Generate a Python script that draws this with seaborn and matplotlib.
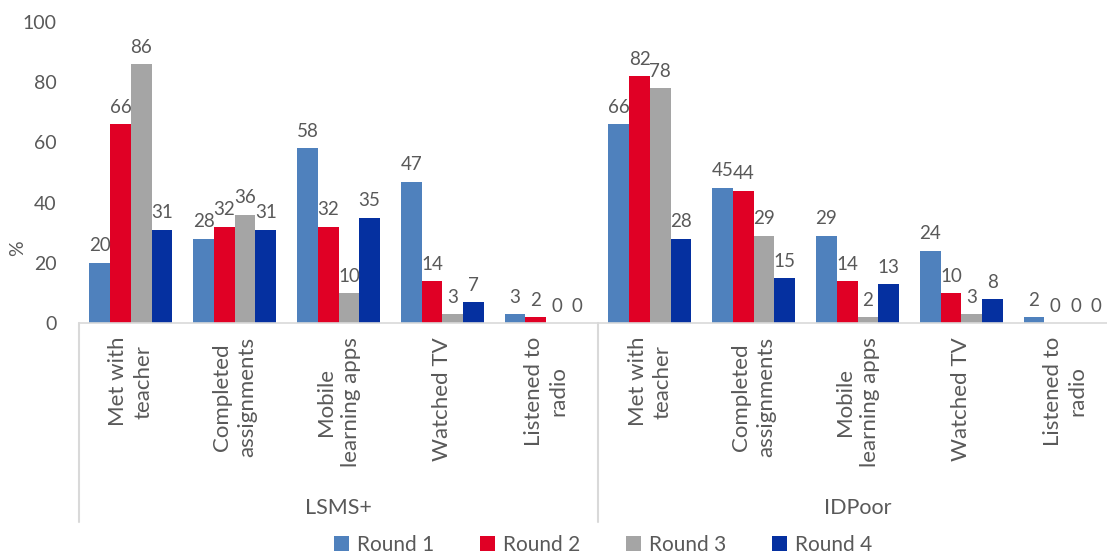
import matplotlib
matplotlib.use("Agg")
import matplotlib.pyplot as plt
import matplotlib.transforms as mtransforms
from matplotlib.patches import Patch
import seaborn as sns
import pandas as pd

# Survey sources and activity categories
sources = ["LSMS+", "IDPoor"]
activities = ["Met with\nteacher", "Completed\nassignments", "Mobile\nlearning apps",
              "Watched TV", "Listened to\nradio"]
rounds = ["Round 1", "Round 2", "Round 3", "Round 4"]

# Share of respondents (%) per activity, one list per round
lsms_round1 = [20, 28, 58, 47, 3]
lsms_round2 = [66, 32, 32, 14, 2]
lsms_round3 = [86, 36, 10, 3, 0]
lsms_round4 = [31, 31, 35, 7, 0]

idpoor_round1 = [66, 45, 29, 24, 2]
idpoor_round2 = [82, 44, 14, 10, 0]
idpoor_round3 = [78, 29, 2, 3, 0]
idpoor_round4 = [28, 15, 13, 8, 0]

colors = ["#4F81BD", "#E00025", "#A5A5A5", "#0530A0"]
text_color = "#595959"
line_color = "#D9D9D9"

series = {
    "LSMS+": [lsms_round1, lsms_round2, lsms_round3, lsms_round4],
    "IDPoor": [idpoor_round1, idpoor_round2, idpoor_round3, idpoor_round4],
}

rows = []
keys = []
for src in sources:
    for i, act in enumerate(activities):
        key = f"{src}|{act}"
        keys.append(key)
        for r, rname in enumerate(rounds):
            rows.append({"key": key, "round": rname, "value": series[src][r][i]})
df = pd.DataFrame(rows)

sns.set_style("white")
plt.rcParams["font.family"] = ["Lato", "DejaVu Sans"]

fig = plt.figure(figsize=(11.07, 5.56), dpi=100)
W, H = 1107, 556
left_px, right_px, top_px, bottom_px = 79, 1117, 22, 323
ax = fig.add_axes([left_px / W, 1 - bottom_px / H,
                   (right_px - left_px) / W, (bottom_px - top_px) / H])

sns.barplot(data=df, x="key", y="value", hue="round", order=keys,
            hue_order=rounds, palette=colors, saturation=1, width=0.8,
            legend=False, ax=ax, errorbar=None, linewidth=0)

for cont in ax.containers:
    ax.bar_label(cont, fmt="%d", padding=6, fontsize=13.5, color=text_color)

ax.set_ylim(0, 100)
ax.set_xlim(-0.5, len(keys) - 0.5)
ax.set_yticks(range(0, 101, 20))
ax.tick_params(axis="y", length=0, pad=16, labelsize=14, labelcolor=text_color)
ax.set_xticks(range(len(keys)))
ax.set_xticklabels(activities * 2, rotation=90, ha="center", va="top",
                   multialignment="center", fontsize=16, color=text_color,
                   linespacing=1.3)
ax.tick_params(axis="x", length=0, pad=10)
ax.set_xlabel("")
ax.set_ylabel("")
fig.text(18 / W, 1 - 248 / H, "%", rotation=90, ha="center", va="center",
         fontsize=14, color=text_color)

for side in ["top", "right", "left"]:
    ax.spines[side].set_visible(False)
ax.spines["bottom"].set_color(line_color)
ax.spines["bottom"].set_linewidth(1.2)

# Group separators and group names on the two-level category axis
trans = mtransforms.blended_transform_factory(ax.transData, ax.transAxes)
axis_h = bottom_px - top_px
sep_bottom = -(522 - bottom_px) / axis_h
for xpos in [-0.5, 4.5, 9.5]:
    ax.plot([xpos, xpos], [0, sep_bottom], color=line_color, lw=1.5,
            transform=trans, clip_on=False)
group_y = -(508 - bottom_px) / axis_h
for g, src in enumerate(sources):
    ax.text(g * 5 + 2, group_y, src, transform=trans, ha="center", va="center",
            fontsize=15.5, color=text_color)

handles = [Patch(facecolor=c, edgecolor="none", label=r) for c, r in zip(colors, rounds)]
fig.legend(handles=handles, loc="center", bbox_to_anchor=(603 / W, 1 - 545 / H),
           ncol=4, frameon=False, fontsize=15, handlelength=0.7, handleheight=0.7,
           handletextpad=0.4, columnspacing=2.2, labelcolor=text_color,
           borderaxespad=0, borderpad=0)

fig.savefig("out.png", dpi=100)
